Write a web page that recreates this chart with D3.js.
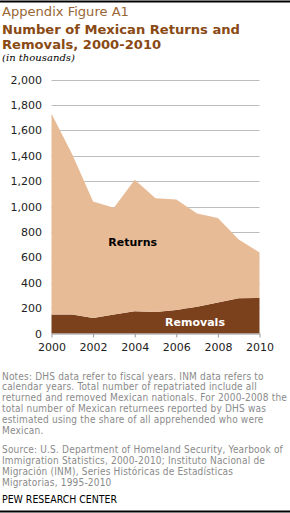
<!DOCTYPE html>
<html>
<head>
<meta charset="utf-8">
<script src="https://cdn.jsdelivr.net/npm/d3@7"></script>
<style>
  body { margin: 0; background: #fff; }
  svg { display: block; }
</style>
</head>
<body>
<svg width="290" height="513"></svg>
<script>
// ---- Data (thousands)
const years = [2000, 2001, 2002, 2003, 2004, 2005, 2006, 2007, 2008, 2009, 2010];
const removals = [150, 150, 123, 150, 175, 170, 185, 210, 245, 278, 280];
const returns = [1580, 1260, 917, 840, 1035, 895, 870, 735, 665, 462, 358];
const yTicks = [0, 200, 400, 600, 800, 1000, 1200, 1400, 1600, 1800, 2000];
const xTicks = [2000, 2002, 2004, 2006, 2008, 2010];

const notes = [
  'Notes: DHS  data refer to fiscal years. INM  data refers to',
  'calendar years. Total number of repatriated include all',
  'returned and removed  Mexican nationals. For 2000-2008 the',
  'total number of Mexican returnees reported by DHS  was',
  'estimated using the share of all apprehended who were',
  'Mexican.'
];
const source = [
  'Source: U.S. Department of Homeland Security, Yearbook of',
  'Immigration Statistics, 2000-2010; Instituto Nacional de',
  'Migración (INM),  Series Históricas de Estadísticas',
  'Migratorias, 1995-2010'
];

const svg = d3.select('svg');
const svgWidth = 290;
const margens = { left: 51.5, right: 30.5, top: 79.5, bottom: 180 };

const mapX = d3.scaleLinear().domain([2000, 2010]).range([margens.left, svgWidth - margens.right]);
const mapY = d3.scaleLinear().domain([0, 2000]).range([333.5, margens.top]);

// scale a text's font size so it spans a given width
function fitWidth(sel, target) {
  const node = sel.node();
  const w = node.getComputedTextLength();
  const fs = parseFloat(sel.attr('font-size'));
  sel.attr('font-size', (fs * target / w).toFixed(2) + 'px');
}

// ---- Rules
svg.append('line').attr('x1', 0).attr('x2', 290).attr('y1', 1.5).attr('y2', 1.5)
  .attr('stroke', '#000').attr('stroke-width', 2);
svg.append('line').attr('x1', 0).attr('x2', 290).attr('y1', 511.5).attr('y2', 511.5)
  .attr('stroke', '#000').attr('stroke-width', 2);

// ---- Titles
svg.append('text').attr('x', 2).attr('y', 16)
  .attr('font-family', 'DejaVu Sans').attr('font-size', '12px').attr('fill', '#9a6635')
  .text('Appendix Figure A1')
  .call(fitWidth, 127);
const titleLines = ['Number of Mexican Returns and', 'Removals, 2000-2010'];
const titles = svg.selectAll('.title').data(titleLines).join('text')
  .attr('class', 'title')
  .attr('x', 2).attr('y', (d, i) => 34 + i * 14.5)
  .attr('font-family', 'DejaVu Sans').attr('font-weight', 700).attr('font-size', '12px')
  .attr('fill', '#8a4a14')
  .text(d => d);
{
  const first = d3.select(titles.nodes()[0]);
  fitWidth(first, 238);
  titles.attr('font-size', first.attr('font-size'));
}
svg.append('text').attr('x', 2).attr('y', 61)
  .attr('font-family', 'DejaVu Serif').attr('font-style', 'italic').attr('font-size', '10px')
  .attr('fill', '#000')
  .text('(in thousands)')
  .call(fitWidth, 73);

// ---- Gridlines
svg.append('g').selectAll('line').data(yTicks.filter(d => d > 0)).join('line')
  .attr('x1', margens.left).attr('x2', svgWidth - margens.right)
  .attr('y1', d => Math.round(mapY(d)) + 0.5).attr('y2', d => Math.round(mapY(d)) + 0.5)
  .attr('stroke', '#bdbdbd').attr('stroke-width', 1);

// ---- Stacked areas
const table = years.map((y, i) => ({ year: y, removals: removals[i], returns: returns[i] }));
const series = d3.stack().keys(['removals', 'returns'])(table);
const colors = { removals: '#7b401c', returns: '#e8bb97' };
const area = d3.area()
  .x(d => mapX(d.data.year))
  .y0(d => mapY(d[0]))
  .y1(d => mapY(d[1]));
svg.append('g').selectAll('path').data(series).join('path')
  .attr('d', area)
  .attr('fill', d => colors[d.key]);

// ---- Y axis labels
svg.append('g').selectAll('text').data(yTicks).join('text')
  .attr('x', 42).attr('y', d => mapY(d) + 4)
  .attr('text-anchor', 'end')
  .attr('font-family', 'DejaVu Sans').attr('font-size', '11px').attr('fill', '#222')
  .text(d => d3.format(',')(d));

// ---- X axis
const xAxis = d3.axisBottom(mapX).tickValues(xTicks).tickFormat(d3.format('d')).tickSize(4).tickSizeOuter(0);
const gx = svg.append('g')
  .attr('transform', `translate(0, ${mapY(0)})`)
  .call(xAxis);
gx.select('.domain').attr('stroke', '#999');
gx.selectAll('.tick line').attr('stroke', '#999');
gx.selectAll('.tick text')
  .attr('font-family', 'DejaVu Sans').attr('font-size', '11px').attr('fill', '#222')
  .attr('dy', '0.95em');

// ---- Series labels
svg.append('text').attr('x', mapX(2003.9)).attr('y', mapY(690))
  .attr('text-anchor', 'middle')
  .attr('font-family', 'DejaVu Sans').attr('font-weight', 700).attr('font-size', '11px').attr('fill', '#000')
  .text('Returns');
svg.append('text').attr('x', mapX(2006.9)).attr('y', mapY(60))
  .attr('text-anchor', 'middle')
  .attr('font-family', 'DejaVu Sans').attr('font-weight', 700).attr('font-size', '11px').attr('fill', '#fff')
  .text('Removals');

// ---- Notes / source (10px condensed, letter-spaced so the widest line spans ~285px)
const noteStyle = sel => sel
  .attr('font-family', 'DejaVu Sans Condensed').attr('font-size', '10px').attr('fill', '#8a8a8a');
const noteTexts = svg.append('g').selectAll('text').data(notes).join('text')
  .attr('x', 2).attr('y', (d, i) => 379.5 + i * 10.9)
  .call(noteStyle)
  .text(d => d);
const sourceTexts = svg.append('g').selectAll('text').data(source).join('text')
  .attr('x', 2).attr('y', (d, i) => 453 + i * 10.9)
  .call(noteStyle)
  .text(d => d);
{
  const widest = noteTexts.nodes()[2];
  const w = widest.getComputedTextLength();
  const ls = (285 - w) / (notes[2].length - 1);
  noteTexts.attr('letter-spacing', ls.toFixed(3) + 'px');
  sourceTexts.attr('letter-spacing', ls.toFixed(3) + 'px');
}
svg.append('text').attr('x', 2).attr('y', 503)
  .attr('font-family', 'DejaVu Sans Condensed').attr('font-size', '10px').attr('fill', '#000')
  .text('PEW RESEARCH CENTER')
  .call(fitWidth, 115);
</script>
</body>
</html>
